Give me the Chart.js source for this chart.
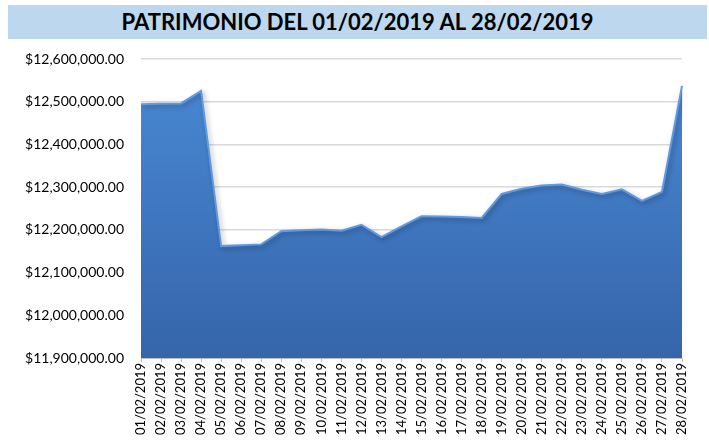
<!DOCTYPE html>
<html>
<head>
<meta charset="utf-8">
<script src="https://cdn.jsdelivr.net/npm/chart.js@4.4.0/dist/chart.umd.min.js"></script>
<style>
  body { margin: 0; background: #fff; }
  #wrap { position: relative; width: 709px; height: 440px; }
  #titulo {
    position: absolute; left: 8px; top: 5px; width: 699px; height: 34px;
    background: #bdd7ee; text-align: center; line-height: 34px;
    font-family: Lato, "Open Sans", sans-serif; font-weight: bold; font-size: 22px; color: #000;
  }
  #grafica { position: absolute; left: 0; top: 0; }
</style>
</head>
<body>
<div id="wrap">
  <canvas id="grafica" width="709" height="440"></canvas>
  <div id="titulo">PATRIMONIO DEL 01/02/2019 AL 28/02/2019</div>
</div>
<script>
const fechas = ["01/02/2019","02/02/2019","03/02/2019","04/02/2019","05/02/2019","06/02/2019","07/02/2019",
  "08/02/2019","09/02/2019","10/02/2019","11/02/2019","12/02/2019","13/02/2019","14/02/2019",
  "15/02/2019","16/02/2019","17/02/2019","18/02/2019","19/02/2019","20/02/2019","21/02/2019",
  "22/02/2019","23/02/2019","24/02/2019","25/02/2019","26/02/2019","27/02/2019","28/02/2019"];
const patrimonio = [12494000, 12495000, 12496000, 12525000, 12162000, 12164000, 12166000,
  12197000, 12199000, 12201000, 12198000, 12212000, 12183000, 12208000,
  12232000, 12231000, 12230000, 12228000, 12284000, 12296000, 12304000,
  12306000, 12294000, 12284000, 12295000, 12268000, 12289000, 12537000];
const yMin = 11900000;
const yMax = 12600000;
const yPaso = 100000;

function formatoMoneda(v) {
  return '$' + v.toLocaleString('en-US', {minimumFractionDigits: 2, maximumFractionDigits: 2});
}

// sombra del area
const sombra = {
  id: 'sombra',
  beforeDatasetDraw(chart) {
    const ctx = chart.ctx;
    ctx.save();
    ctx.shadowColor = 'rgba(0,0,0,0.35)';
    ctx.shadowBlur = 5;
    ctx.shadowOffsetX = 2;
    ctx.shadowOffsetY = 2;
  },
  afterDatasetDraw(chart) {
    chart.ctx.restore();
  }
};

const ctx = document.getElementById('grafica').getContext('2d');
const grafica = new Chart(ctx, {
  type: 'line',
  data: {
    labels: fechas,
    datasets: [{
      data: patrimonio,
      fill: 'start',
      backgroundColor: function(c) {
        const area = c.chart.chartArea;
        if (!area) return '#3f78c4';
        const g = c.chart.ctx.createLinearGradient(0, area.top, 0, area.bottom);
        g.addColorStop(0, '#4a8ad6');
        g.addColorStop(1, '#3565aa');
        return g;
      },
      borderColor: '#5f9ae2',
      borderWidth: 2,
      pointRadius: 0,
      tension: 0
    }]
  },
  options: {
    responsive: false,
    animation: false,
    layout: { padding: { top: 59, right: 27, left: 0, bottom: 0 } },
    plugins: { legend: { display: false }, tooltip: { enabled: false } },
    scales: {
      x: {
        offset: false,
        grid: { drawOnChartArea: false, drawTicks: true, tickLength: 4, color: '#bfbfbf' },
        border: { color: '#bfbfbf' },
        ticks: {
          autoSkip: false, maxRotation: 90, minRotation: 90,
          color: '#000', font: { family: 'Lato', size: 13 }, padding: 1
        },
        afterFit(scale) { scale.height = 82; }
      },
      y: {
        min: yMin, max: yMax,
        grid: { color: '#d9d9d9', lineWidth: 1.5, drawTicks: false },
        border: { display: false },
        ticks: {
          stepSize: yPaso, color: '#000', padding: 17,
          font: { family: 'Lato', size: 14 },
          callback: v => formatoMoneda(v)
        },
        afterFit(scale) { scale.width = 141; }
      }
    }
  },
  plugins: [sombra]
});
</script>
</body>
</html>
